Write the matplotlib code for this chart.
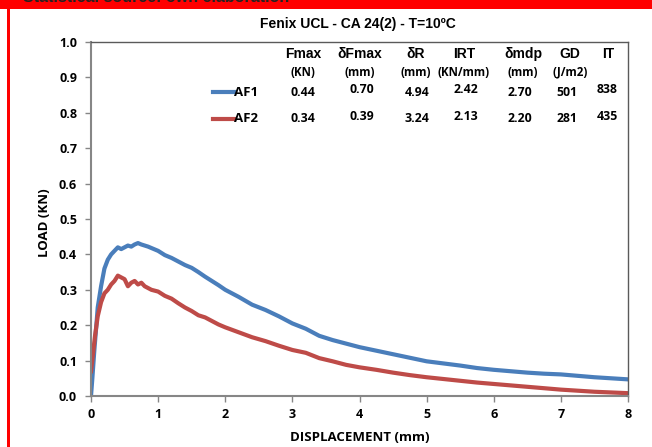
import matplotlib
matplotlib.use("Agg")
import matplotlib.pyplot as plt
from matplotlib.patches import Rectangle
from matplotlib.lines import Line2D

# curva carga-desplazamiento
af1_x = [0, 0.02, 0.05, 0.08, 0.1, 0.15, 0.2, 0.25, 0.3, 0.35, 0.4, 0.45, 0.5, 0.55,
         0.6, 0.65, 0.7, 0.75, 0.8, 0.85, 0.9, 1.0, 1.1, 1.2, 1.3, 1.4, 1.5, 1.6, 1.7,
         1.8, 1.9, 2.0, 2.2, 2.4, 2.6, 2.8, 3.0, 3.2, 3.4, 3.6, 3.8, 4.0, 4.25, 4.5,
         4.75, 5.0, 5.25, 5.5, 5.75, 6.0, 6.25, 6.5, 6.75, 7.0, 7.25, 7.5, 7.75, 8.0]
af1_y = [0, 0.05, 0.13, 0.20, 0.25, 0.31, 0.36, 0.385, 0.40, 0.41, 0.42, 0.415, 0.42,
         0.425, 0.422, 0.428, 0.432, 0.428, 0.425, 0.422, 0.418, 0.41, 0.398, 0.39,
         0.38, 0.37, 0.362, 0.35, 0.337, 0.325, 0.313, 0.30, 0.28, 0.258, 0.243, 0.225,
         0.205, 0.19, 0.17, 0.158, 0.148, 0.138, 0.128, 0.118, 0.108, 0.098, 0.092,
         0.086, 0.079, 0.074, 0.070, 0.066, 0.063, 0.061, 0.057, 0.053, 0.050, 0.047]

af2_x = [0, 0.03, 0.06, 0.1, 0.15, 0.2, 0.25, 0.3, 0.35, 0.4, 0.45, 0.5, 0.55, 0.6,
         0.65, 0.7, 0.75, 0.8, 0.9, 1.0, 1.1, 1.2, 1.3, 1.4, 1.5, 1.6, 1.7, 1.8, 1.9,
         2.0, 2.2, 2.4, 2.6, 2.8, 3.0, 3.2, 3.4, 3.6, 3.8, 4.0, 4.25, 4.5, 4.75, 5.0,
         5.25, 5.5, 5.75, 6.0, 6.25, 6.5, 6.75, 7.0, 7.25, 7.5, 7.75, 8.0]
af2_y = [0.07, 0.12, 0.17, 0.225, 0.265, 0.29, 0.30, 0.315, 0.325, 0.34, 0.335, 0.33,
         0.31, 0.32, 0.325, 0.315, 0.32, 0.31, 0.30, 0.295, 0.283, 0.275, 0.262, 0.25,
         0.24, 0.228, 0.222, 0.212, 0.202, 0.194, 0.18, 0.166, 0.155, 0.142, 0.13,
         0.122, 0.107, 0.098, 0.088, 0.081, 0.074, 0.066, 0.059, 0.053, 0.048, 0.043,
         0.038, 0.034, 0.030, 0.026, 0.022, 0.018, 0.015, 0.012, 0.010, 0.008]

# tabla de resultados
col_names = ["Fmax", "δFmax", "δR", "IRT", "δmdp", "GD", "IT"]
col_units = ["(KN)", "(mm)", "(mm)", "(KN/mm)", "(mm)", "(J/m2)", ""]
af1_vals = ["0.44", "0.70", "4.94", "2.42", "2.70", "501", "838"]
af2_vals = ["0.34", "0.39", "3.24", "2.13", "2.20", "281", "435"]

blue = "#4a7ebb"
red = "#be4b48"
W, H = 652, 447
small_font = "Open Sans"


def px(x, y):
    return x / W, 1 - y / H


fig = plt.figure(figsize=(W / 100, H / 100), dpi=100)
ax = fig.add_axes([91 / W, 1 - 396 / H, (628 - 91) / W, (396 - 42) / H])

ax.plot(af1_x, af1_y, color=blue, lw=3.0, solid_joinstyle="round")
ax.plot(af2_x, af2_y, color=red, lw=3.0, solid_joinstyle="round")

ax.set_xlim(0, 8)
ax.set_ylim(0, 1.0)
ax.set_xticks(range(0, 9))
ax.set_yticks([i / 10 for i in range(11)])
ax.set_yticklabels([f"{i / 10:.1f}" for i in range(11)])

for s in ["left", "bottom"]:
    ax.spines[s].set_color("#868686")
    ax.spines[s].set_linewidth(1.5)
for s in ["top", "right"]:
    ax.spines[s].set_color("#5a5a5a")
    ax.spines[s].set_linewidth(1.0)

ax.tick_params(axis="both", direction="out", length=4, width=1, color="#868686",
               labelsize=9)
ax.tick_params(axis="y", pad=6)
ax.tick_params(axis="x", pad=5)
for lab in ax.get_xticklabels() + ax.get_yticklabels():
    lab.set_fontfamily(small_font)
    lab.set_fontweight("bold")

ax.set_xlabel("DISPLACEMENT (mm)", fontfamily=small_font, fontweight="bold", fontsize=9.5,
              va="center")
ax.xaxis.set_label_coords(0.5, -0.116)
ax.set_ylabel("LOAD (KN)", fontfamily=small_font, fontweight="bold", fontsize=9.5,
              va="center")
ax.yaxis.set_label_coords(-0.0875, 0.489)

fig.text(*px(358, 24), "Fenix UCL - CA 24(2) - T=10ºC", ha="center", va="center",
         fontfamily="Liberation Sans", fontweight="bold", fontsize=10)

# cabecera de la tabla
col_x = [303, 360, 416, 464, 523, 570, 608]
for cx, name, unit in zip(col_x, col_names, col_units):
    fig.text(*px(cx, 54), name, ha="center", va="center",
             fontfamily="Liberation Sans", fontweight="bold", fontsize=10)
    if unit:
        fig.text(*px(cx, 72), unit, ha="center", va="center",
                 fontfamily=small_font, fontweight="bold", fontsize=8.3)

val_x = [303, 362, 417, 466, 520, 567, 607]
for row_y, vals, name, col in [(92, af1_vals, "AF1", blue), (119, af2_vals, "AF2", red)]:
    fig.add_artist(Line2D([213 / W, 234 / W], [1 - row_y / H] * 2, color=col, lw=3.0))
    fig.text(*px(234, row_y), name, ha="left", va="center",
             fontfamily=small_font, fontweight="bold", fontsize=9.5)
    for i, (vx, v) in enumerate(zip(val_x, vals)):
        dy = -2 if i in (1, 3, 6) else 0
        fig.text(*px(vx, row_y + dy), v, ha="center", va="center",
                 fontfamily=small_font, fontweight="bold", fontsize=8.8)

# marco rojo
fig.add_artist(Rectangle((0, 1 - 9 / H), 1, 9 / H, transform=fig.transFigure,
                         facecolor="#ff0000", edgecolor="none"))
fig.add_artist(Rectangle((7 / W, 0), 3 / W, 1, transform=fig.transFigure,
                         facecolor="#ff0000", edgecolor="none"))
fig.text(*px(23, 2), "Statistical source: own elaboration", ha="left", va="baseline",
         fontfamily="Liberation Sans", fontweight="bold", fontsize=11.5, color="#222222")

fig.savefig("out.png", dpi=100)
